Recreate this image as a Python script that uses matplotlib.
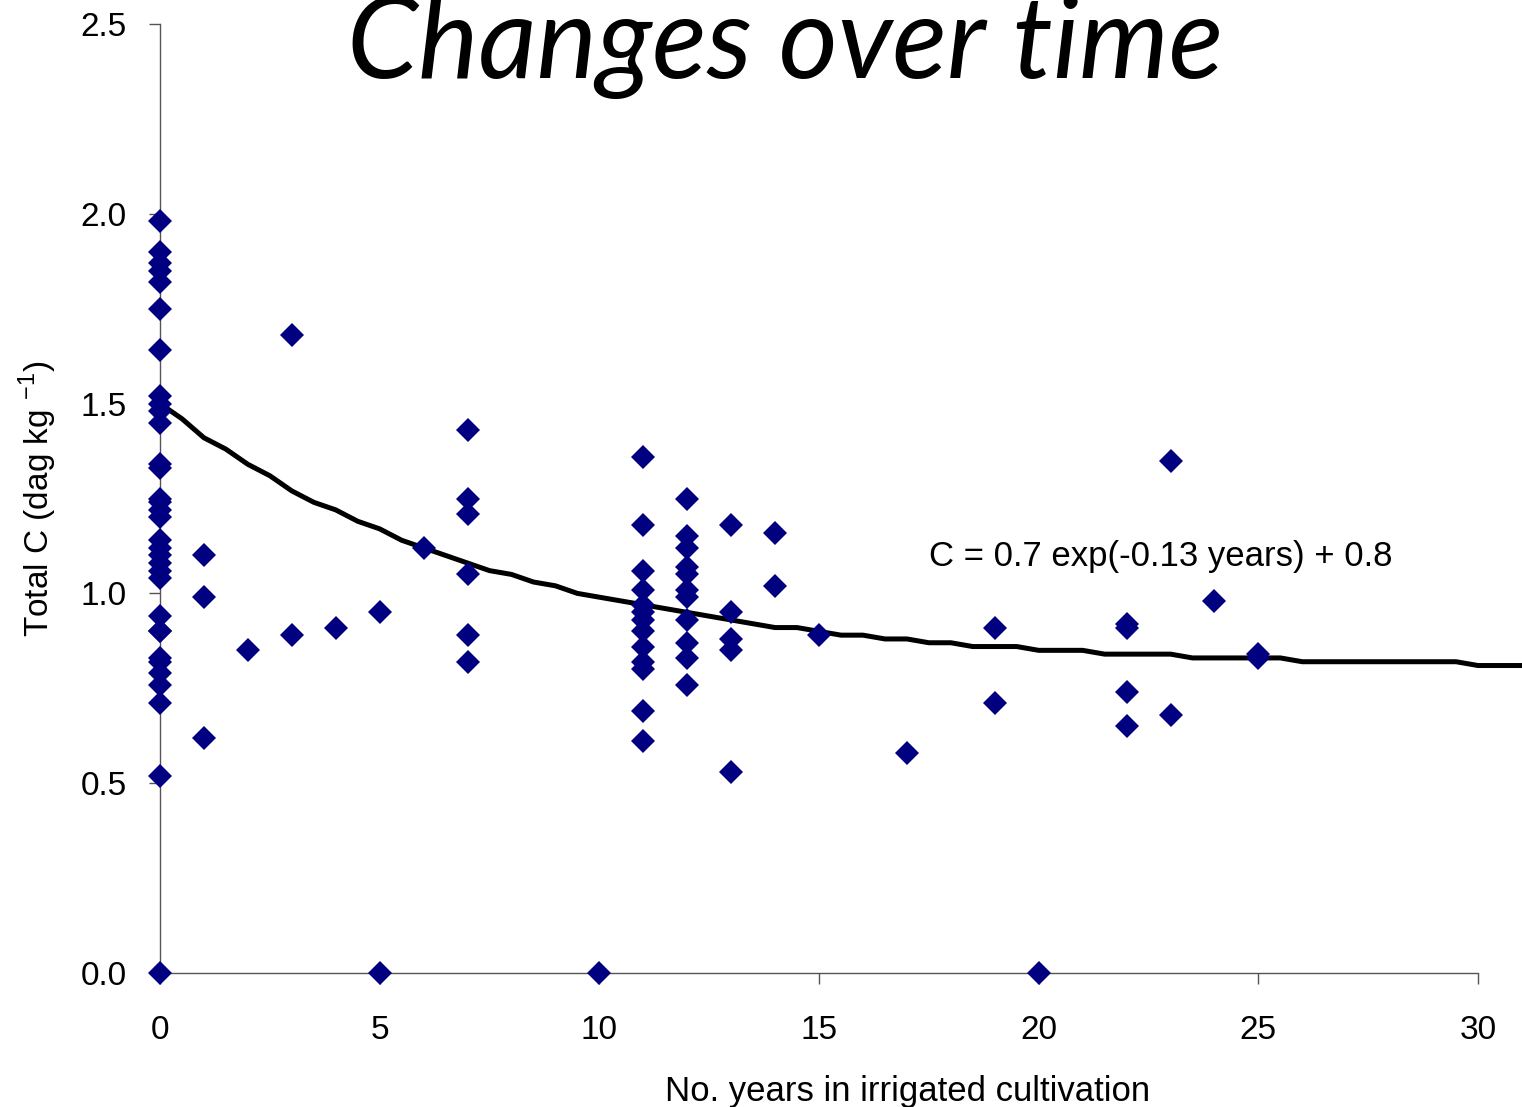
import numpy as np
import matplotlib.pyplot as plt

plt.rcParams['font.family'] = ['Liberation Sans', 'DejaVu Sans']
plt.rcParams['mathtext.fontset'] = 'custom'
plt.rcParams['mathtext.rm'] = 'Liberation Sans'

# measured points: (years, total C)
years = [0] * 33 + [1, 1, 1, 2, 3, 3, 4, 5, 5, 6,
         7, 7, 7, 7, 7, 7, 10] + [11] * 13 + [12] * 11 + [13] * 5 + [
         14, 14, 15, 17, 19, 19, 20, 22, 22, 22, 22, 23, 23, 24, 25, 25]
carbon = [1.98, 1.90, 1.87, 1.85, 1.82, 1.75, 1.64, 1.52, 1.50, 1.48, 1.45,
          1.34, 1.33, 1.25, 1.24, 1.22, 1.20, 1.14, 1.12, 1.10, 1.08, 1.06,
          1.04, 0.94, 0.90, 0.83, 0.82, 0.79, 0.76, 0.71, 0.52, 0.00, 0.90,
          1.10, 0.99, 0.62, 0.85, 1.68, 0.89, 0.91, 0.95, 0.00, 1.12,
          1.43, 1.25, 1.21, 1.05, 0.89, 0.82, 0.00,
          1.36, 1.18, 1.06, 1.01, 0.97, 0.95, 0.93, 0.90, 0.86, 0.82, 0.80, 0.69, 0.61,
          1.25, 1.15, 1.12, 1.07, 1.05, 1.01, 0.99, 0.93, 0.87, 0.83, 0.76,
          1.18, 0.95, 0.88, 0.85, 0.53,
          1.16, 1.02, 0.89, 0.58, 0.91, 0.71, 0.00, 0.92, 0.91, 0.74, 0.65,
          1.35, 0.68, 0.98, 0.84, 0.83]

# fitted curve C = 0.7 exp(-0.13 years) + 0.8, plotted with rounded values
fit_x = np.arange(0, 31.5, 0.5)
fit_y = np.round(0.7 * np.exp(-0.13 * fit_x) + 0.8, 2)

fig = plt.figure(figsize=(15.22, 11.07), dpi=100)
ax = fig.add_axes([160 / 1522, 1 - 973 / 1107, 1362 / 1522, (973 - 24) / 1107])

ax.plot(fit_x, fit_y, color='black', lw=3.6, zorder=2, clip_on=False)
ax.plot(years, carbon, 'D', color='#000080', ms=12, mew=0, zorder=3, clip_on=False)

ax.set_xlim(0, 31)
ax.set_ylim(0, 2.5)
ax.set_xticks(range(0, 31, 5))
ax.set_yticks(np.arange(0, 2.6, 0.5))
ax.yaxis.set_major_formatter(plt.FormatStrFormatter('%.1f'))
for s in ['top', 'right']:
    ax.spines[s].set_visible(False)
ax.spines['bottom'].set_bounds(0, 30)
for s in ['left', 'bottom']:
    ax.spines[s].set_color('#555555')
    ax.spines[s].set_linewidth(1)
ax.tick_params(direction='out', length=8, width=1, color='#555555', labelsize=24)
ax.tick_params(axis='x', pad=22)
ax.tick_params(axis='y', pad=16)

ax.set_xlabel('No. years in irrigated cultivation', fontsize=25)
ax.xaxis.set_label_coords(0.549, -0.107)
ax.set_ylabel('Total C (dag kg $^{-1}$)', fontsize=24)
ax.yaxis.set_label_coords(-0.074, 0.5)

ax.text(17.5, 1.096, 'C = 0.7 exp(-0.13 years) + 0.8', fontsize=25, va='center')

fig.text(785 / 1522, 1 - 78 / 1107, 'Changes over time', family=['Lato', 'DejaVu Sans'],
         style='italic', fontsize=82, ha='center', va='baseline')

fig.savefig('out.png', dpi=100)
